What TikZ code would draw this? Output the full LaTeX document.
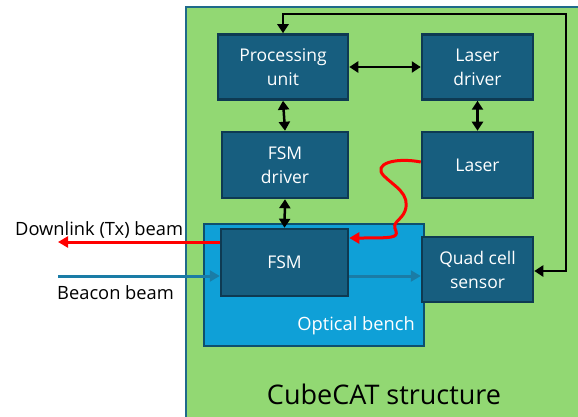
\documentclass[tikz,border=0pt]{standalone}
\usepackage{fontspec}
\setmainfont{Open Sans}
\usetikzlibrary{arrows.meta}
\definecolor{cgreen}{HTML}{92D873}
\definecolor{cgreenb}{HTML}{1F6A8A}
\definecolor{cbox}{HTML}{175E7F}
\definecolor{cboxb}{HTML}{0E3A52}
\definecolor{cbench}{HTML}{0FA0D7}
\definecolor{cbenchb}{HTML}{0E4F6E}
\definecolor{cbeam}{HTML}{1A7CA6}
\definecolor{cred}{HTML}{FF0000}
\tikzset{
  blk/.style={draw=cboxb, line width=2.5pt, fill=cbox, text=white, align=center,
    font=\fontsize{17.5}{24}\selectfont, inner sep=0pt},
  dbl/.style={line width=2.5pt, {Triangle[width=11pt,length=9pt]}-{Triangle[width=11pt,length=9pt]}},
  lbl/.style={font=\fontsize{18.3}{20}\selectfont, inner sep=0pt}
}
\begin{document}
\begin{tikzpicture}[x=1pt,y=-1pt]
\useasboundingbox (0,0) rectangle (578,417);
\fill[white] (0,0) rectangle (578,417);
% structure
\draw[draw=cgreenb, line width=2pt, fill=cgreen] (186,7) rectangle (590,430);
\node[font=\fontsize{27}{32}\selectfont, anchor=center] (struct) at (384,394) {CubeCAT structure};
% optical bench
\draw[draw=cbenchb, line width=2.5pt, fill=cbench] (204,224) rectangle (424,346);
\node[lbl, text=white, anchor=east] (bench) at (415,326) {Optical bench};
% blocks
\node[blk, minimum width=130pt, minimum height=65pt] (pu) at (283,67) {Processing\\unit};
\node[blk, minimum width=111pt, minimum height=65pt] (ld) at (477.5,67) {Laser\\driver};
\node[blk, minimum width=126pt, minimum height=66pt] (fd) at (285,165) {FSM\\driver};
\node[blk, minimum width=111pt, minimum height=66pt] (la) at (477.5,165) {Laser};
\node[blk, minimum width=127pt, minimum height=67pt] (fsm) at (284.5,262.5) {FSM};
\node[blk, minimum width=111pt, minimum height=65pt] (qc) at (477.5,269.5) {Quad cell\\sensor};
% connectors
\draw[dbl] (pu.east) -- (ld.west);
\draw[dbl] (pu.south) -- (fd.north);
\draw[dbl] (ld.south) -- (la.north);
\draw[dbl] (fd.south) -- (fsm.north);
\coordinate (c1) at (566,14);
\draw[dbl] (qc.east |- 0,271) -| (c1) -| (pu.north);
% beams
\coordinate (dl) at (58,242);
\coordinate (bb) at (58,276);
\draw[cred, line width=3pt, -{Triangle[width=11pt,length=10pt]}] (fsm.west |- dl) -- (dl);
\draw[cbeam, line width=3pt, -{Triangle[width=11pt,length=10pt]}] (bb) -- (fsm.west |- bb);
\draw[cbeam, line width=3pt, -{Triangle[width=11pt,length=10pt]}] (fsm.east |- bb) -- (qc.west |- bb);
\draw[cred, line width=3pt, -{Triangle[width=11pt,length=10pt]}]
  (la.west |- 0,162) .. controls (395,157) and (372,164) .. (384,176)
  .. controls (394,186) and (411,194) .. (405,211)
  .. controls (401,221) and (391,222) .. (396,231)
  .. controls (398,238) and (392,238) .. (fsm.east |- 0,238);
% labels
\node[lbl, anchor=west] (dlt) at (15,230) {Downlink (Tx) beam};
\node[lbl, anchor=west] (bbt) at (57,293) {Beacon beam};
\end{tikzpicture}
\end{document}
